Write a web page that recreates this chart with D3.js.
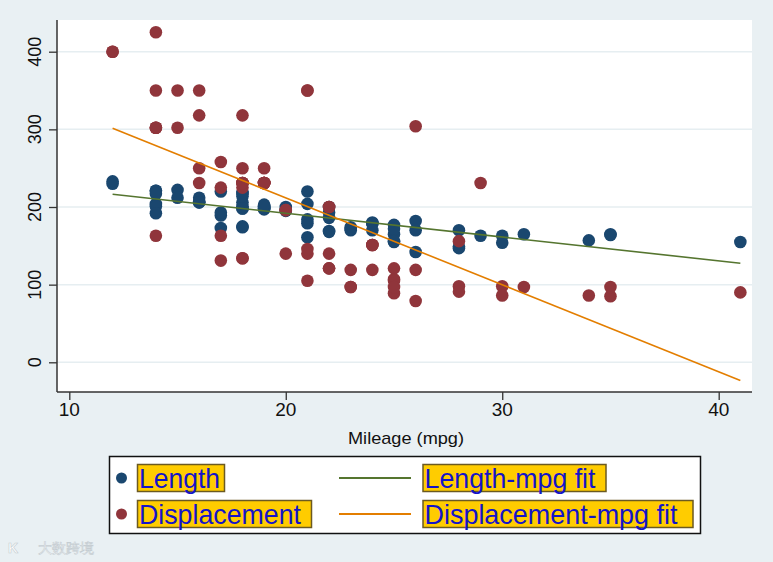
<!doctype html>
<html lang="en">
<head>
  <meta charset="utf-8">
  <title>Length and displacement vs mileage</title>
  <style>
    * { margin: 0; padding: 0; box-sizing: border-box; }
    body { background: #e9f0f3; }
    svg text { font-family: "Liberation Sans", Arial, Helvetica, sans-serif; }
  </style>
</head>
<body>
  <div id="container"></div>
  <script src="https://cdn.jsdelivr.net/npm/d3@7"></script>
  <script>
    // auto data: mileage, length, displacement (74 cars)
    const mpg = [22,17,22,20,15,18,26,20,16,19,14,14,21,29,16,22,22,24,19,30,18,16,17,28,21,12,12,14,22,14,
                 15,18,14,20,21,19,19,18,19,24,16,28,34,25,26,18,18,18,19,19,19,24,17,23,25,23,35,24,21,21,
                 25,28,30,14,26,35,18,31,18,23,41,25,25,17];
    const length = [186,173,168,196,222,218,170,200,207,200,221,204,204,163,212,193,200,179,197,163,206,206,220,147,179,233,230,201,169,221,
                    212,198,217,195,220,198,198,218,200,180,206,170,157,165,182,201,214,198,201,199,203,179,189,174,177,170,165,170,184,161,
                    172,149,154,192,142,164,174,165,175,172,155,155,156,193];
    const displacement = [121,258,121,196,350,231,304,196,231,231,425,350,350,231,250,200,200,151,250,98,318,318,225,98,140,400,400,302,140,302,
                          302,250,302,140,350,231,231,231,231,151,350,156,86,105,119,225,231,231,231,231,231,151,131,97,121,119,85,119,146,105,
                          107,91,86,163,79,97,134,97,134,97,90,89,97,163];

    const xTicks = [10, 20, 30, 40];
    const yTicks = [0, 100, 200, 300, 400];
    const legendLabels = ['Length', 'Displacement', 'Length-mpg fit', 'Displacement-mpg fit'];

    const W = 773, H = 562;
    const plot = {l: 57, r: 752, t: 20, b: 392};
    const col = {len: '#1a476f', disp: '#90353b', lenFit: '#55752f', dispFit: '#e37e00'};

    const x = d3.scaleLinear().domain([10, 40]).range([69.3, 718.7]);
    const y = d3.scaleLinear().domain([0, 400]).range([362.3, 51.7]);

    const svg = d3.select('#container').append('svg')
      .attr('width', W)
      .attr('height', H);

    svg.append('rect').attr('width', W).attr('height', H).attr('fill', '#e9f0f3');
    svg.append('rect')
      .attr('x', plot.l).attr('y', plot.t)
      .attr('width', plot.r - plot.l).attr('height', plot.b - plot.t)
      .attr('fill', '#fff');

    // gridlines
    svg.append('g').selectAll('line').data(yTicks).join('line')
      .attr('x1', plot.l).attr('x2', plot.r)
      .attr('y1', d => y(d)).attr('y2', d => y(d))
      .attr('stroke', '#e6eef1').attr('stroke-width', 1.5);

    // least squares fit, drawn over the observed mpg range
    function fit(xs, ys) {
      const mx = d3.mean(xs), my = d3.mean(ys);
      let sxy = 0, sxx = 0;
      xs.forEach((v, i) => { sxy += (v - mx) * (ys[i] - my); sxx += (v - mx) * (v - mx); });
      const b = sxy / sxx, a = my - b * mx;
      const ext = d3.extent(xs);
      return ext.map(v => [v, a + b * v]);
    }

    const pts = (ys) => mpg.map((m, i) => [m, ys[i]]);

    svg.append('g').selectAll('circle').data(pts(length)).join('circle')
      .attr('cx', d => x(d[0])).attr('cy', d => y(d[1])).attr('r', 6.3)
      .attr('fill', col.len);
    svg.append('g').selectAll('circle').data(pts(displacement)).join('circle')
      .attr('cx', d => x(d[0])).attr('cy', d => y(d[1])).attr('r', 6.3)
      .attr('fill', col.disp);

    const line = d3.line().x(d => x(d[0])).y(d => y(d[1]));
    svg.append('path').attr('d', line(fit(mpg, length)))
      .attr('fill', 'none').attr('stroke', col.lenFit).attr('stroke-width', 1.6);
    svg.append('path').attr('d', line(fit(mpg, displacement)))
      .attr('fill', 'none').attr('stroke', col.dispFit).attr('stroke-width', 1.6);

    // axes
    const yAxis = svg.append('g').attr('transform', `translate(${plot.l},0)`)
      .call(d3.axisLeft(y).tickValues(yTicks).tickSize(8).tickPadding(0).tickFormat(() => ''));
    const xAxis = svg.append('g').attr('transform', `translate(0,${plot.b})`)
      .call(d3.axisBottom(x).tickValues(xTicks).tickSize(8).tickFormat(() => ''));
    [yAxis, xAxis].forEach(g => {
      g.select('.domain').remove();
      g.selectAll('.tick line').attr('stroke', '#333').attr('stroke-width', 1.3);
    });
    svg.append('line').attr('x1', plot.l).attr('x2', plot.l).attr('y1', plot.t).attr('y2', plot.b)
      .attr('stroke', '#333').attr('stroke-width', 1.5);
    svg.append('line').attr('x1', plot.l).attr('x2', plot.r).attr('y1', plot.b).attr('y2', plot.b)
      .attr('stroke', '#333').attr('stroke-width', 1.5);

    svg.append('g').selectAll('text').data(yTicks).join('text')
      .attr('transform', d => `translate(41,${y(d)}) rotate(-90)`)
      .attr('text-anchor', 'middle')
      .attr('font-size', 18).attr('fill', '#111')
      .text(d => d);
    svg.append('g').selectAll('text').data(xTicks).join('text')
      .attr('x', d => x(d)).attr('y', 416)
      .attr('text-anchor', 'middle')
      .attr('font-size', 19).attr('fill', '#111')
      .text(d => d);

    svg.append('text')
      .attr('x', 348).attr('y', 444)
      .attr('font-size', 17).attr('fill', '#111')
      .attr('textLength', 116).attr('lengthAdjust', 'spacingAndGlyphs')
      .text('Mileage (mpg)');

    // legend
    const lg = svg.append('g');
    lg.append('rect').attr('x', 109.5).attr('y', 456.5).attr('width', 591).attr('height', 77)
      .attr('fill', '#fff').attr('stroke', '#111').attr('stroke-width', 1.5);

    const rows = [478, 514];
    lg.selectAll('circle').data([col.len, col.disp]).join('circle')
      .attr('cx', 121.5).attr('cy', (d, i) => rows[i]).attr('r', 5.5).attr('fill', d => d);
    lg.selectAll('line').data([col.lenFit, col.dispFit]).join('line')
      .attr('x1', 339).attr('x2', 411)
      .attr('y1', (d, i) => rows[i]).attr('y2', (d, i) => rows[i])
      .attr('stroke', d => d).attr('stroke-width', 1.8);

    const boxes = [
      {x: 137.5, w: 87, tw: 81, row: 0},
      {x: 137.5, w: 174, tw: 162, row: 1},
      {x: 423, w: 183, tw: 171, row: 0},
      {x: 423, w: 270, tw: 253, row: 1}
    ];
    boxes.forEach((b, i) => {
      const cy = rows[b.row];
      lg.append('rect').attr('x', b.x).attr('y', cy - 13.5).attr('width', b.w).attr('height', 27)
        .attr('fill', '#ffcc00').attr('stroke', '#6b5a22').attr('stroke-width', 1.5);
      lg.append('text').attr('x', b.x + 1.5).attr('y', cy + 10)
        .attr('font-size', 28).attr('fill', '#1414c8')
        .attr('textLength', b.tw).attr('lengthAdjust', 'spacingAndGlyphs')
        .text(legendLabels[i]);
    });

    // watermark
    svg.append('text').attr('x', 38).attr('y', 553)
      .attr('font-family', '"Noto Sans CJK SC", sans-serif')
      .attr('font-size', 14).attr('fill', '#fff').attr('stroke', '#c5cdd2').attr('stroke-width', 0.6)
      .text('大数跨境');
    svg.append('text').attr('x', 8).attr('y', 553)
      .attr('font-size', 14).attr('font-weight', 'bold').attr('fill', '#fff').attr('stroke', '#c5cdd2').attr('stroke-width', 0.6)
      .text('K');
  </script>
</body>
</html>
